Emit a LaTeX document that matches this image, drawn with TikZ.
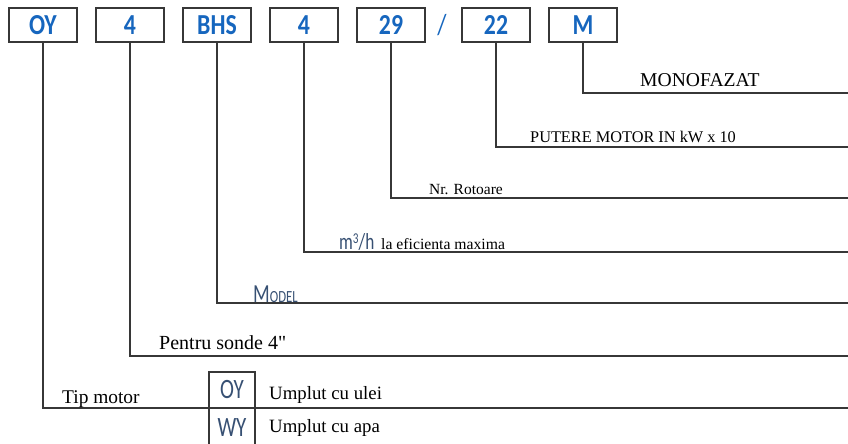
\documentclass[tikz,border=0pt]{standalone}
\usepackage{fontspec}
\setmainfont{Liberation Serif}
\newfontfamily\boxfont[FakeStretch=0.82]{Carlito}
\newfontfamily\narrowfont[FakeStretch=0.75]{Carlito}
\usetikzlibrary{positioning}
\definecolor{codeblue}{RGB}{22,102,190}
\definecolor{greyblue}{RGB}{55,80,115}
\definecolor{wiregrey}{RGB}{55,55,55}
\tikzstyle{block} = [rectangle, draw=wiregrey, line width=1.6pt, minimum width=68pt, minimum height=34pt, inner sep=0, text=codeblue, font=\boxfont\bfseries\fontsize{29}{30}\selectfont]
\tikzstyle{cell} = [rectangle, draw=wiregrey, line width=1.4pt, minimum width=46pt, minimum height=36pt, inner sep=0, text=greyblue, font=\narrowfont\fontsize{28}{30}\selectfont]
\tikzstyle{label} = [anchor=base west, inner sep=0]
\tikzstyle{wire} = [draw=wiregrey, line width=1.6pt]
\newcommand{\straightquote}{\XeTeXglyph\XeTeXcharglyph"22\relax}

\begin{document}
\begin{tikzpicture}[x=1pt, y=-1pt, node distance=87pt]
\useasboundingbox (0,0) rectangle (848,444);

% code boxes
\node [block] (T) at (43,25) {OY};
\node [block, right of=T] (D) {4};
\node [block, right of=D] (B) {BHS};
\node [block, right of=B] (Q) {4};
\node [block, right of=Q] (R) {29};
\node [right of=R, xshift=-36pt, text=codeblue, font=\boxfont\fontsize{29}{30}\selectfont] (S) {/};
\node [block, right of=R, xshift=18pt] (P) {22};
\node [block, right of=P] (M) {M};

% free ends at the right edge
\coordinate (m) at (848,93);
\coordinate (p) at (848,147);
\coordinate (r) at (848,198);
\coordinate (q) at (848,252);
\coordinate (b) at (848,303);
\coordinate (d) at (848,356);
\coordinate (t) at (848,408);

\path [wire] (M) |- (m);
\path [wire] (P) |- (p);
\path [wire] (R) |- (r);
\path [wire] (Q) |- (q);
\path [wire] (B) |- (b);
\path [wire] (D) |- (d);
\path [wire] (T) |- (t);

% meanings
\node [label, font=\fontsize{19.6}{22}\selectfont] (Lm) at (640,86) {MONOFAZAT};
\node [label, font=\fontsize{16.3}{18}\selectfont] (Lp) at (530,142) {PUTERE MOTOR IN kW x 10};
\node [label, font=\fontsize{15.5}{17}\selectfont] (Lr) at (429,194) {Nr. Rotoare};
\node [label, text=greyblue, font=\narrowfont\fontsize{23}{25}\selectfont] (Lq) at (339,249) {m\raisebox{6pt}{\fontsize{15}{16}\selectfont 3}/h};
\node [label, font=\fontsize{15.7}{17}\selectfont] (Le) at (381,249) {la eficienta maxima};
\node [label, text=greyblue, font=\narrowfont] (Lb) at (253,302) {\fontsize{26}{27}\selectfont M\fontsize{17}{18}\selectfont ODEL};
\node [label, font=\fontsize{20}{22}\selectfont] (Ld) at (159,349) {Pentru sonde 4\straightquote};
\node [label, font=\fontsize{19.4}{22}\selectfont] (Lt) at (62,403) {Tip motor};

% motor types
\node [cell] (O) at (232,390) {OY};
\node [cell, minimum height=40pt] (W) at (232,428) {WY};
\node [label, font=\fontsize{18.8}{21}\selectfont] (Lo) at (269,399) {Umplut cu ulei};
\node [label, font=\fontsize{18.8}{21}\selectfont] (Lw) at (269,432) {Umplut cu apa};

\end{tikzpicture}
\end{document}
